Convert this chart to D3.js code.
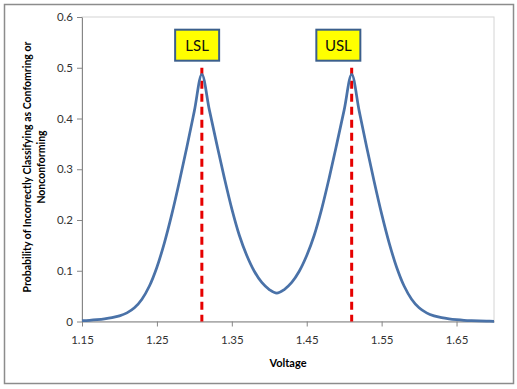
<!DOCTYPE html>
<html>
<head>
<meta charset="utf-8">
<script src="https://cdn.jsdelivr.net/npm/d3@7"></script>
<style>
  body { margin: 0; background: #fff; }
  svg { display: block; font-family: Lato, "Open Sans", sans-serif; }
</style>
</head>
<body>
<svg id="chart" width="517" height="389"></svg>
<script>
// data
const voltage = [1.15, 1.16, 1.17, 1.18, 1.19, 1.20, 1.21, 1.22, 1.23, 1.24,
  1.25, 1.26, 1.27, 1.28, 1.29, 1.30, 1.31, 1.32, 1.33, 1.34,
  1.35, 1.36, 1.37, 1.38, 1.39, 1.40, 1.41, 1.42, 1.43, 1.44,
  1.45, 1.46, 1.47, 1.48, 1.49, 1.50, 1.51, 1.52, 1.53, 1.54,
  1.55, 1.56, 1.57, 1.58, 1.59, 1.60, 1.61, 1.62, 1.63, 1.64,
  1.65, 1.66, 1.67, 1.68, 1.69, 1.70];
const probability = [0.0016, 0.0024, 0.0036, 0.0052, 0.0075, 0.011, 0.017, 0.027, 0.044, 0.070,
  0.107, 0.155, 0.212, 0.276, 0.344, 0.415, 0.487, 0.417, 0.349, 0.283,
  0.222, 0.170, 0.130, 0.099, 0.077, 0.063, 0.056, 0.063, 0.077, 0.099,
  0.130, 0.170, 0.222, 0.283, 0.349, 0.417, 0.487, 0.415, 0.344, 0.276,
  0.212, 0.155, 0.107, 0.070, 0.044, 0.027, 0.017, 0.011, 0.0075, 0.0052,
  0.0036, 0.0024, 0.0016, 0.001, 0.0006, 0.0004];

const limitNames = ["LSL", "USL"];
const limitValues = [1.31, 1.51];
const limitTop = 0.5;
const labelCenters = [1.3037, 1.4922];

const xTicks = [1.15, 1.25, 1.35, 1.45, 1.55, 1.65];
const yTicks = [0, 0.1, 0.2, 0.3, 0.4, 0.5, 0.6];

const margin = {left: 82, right: 23, top: 17, bottom: 67.5};
const width = 517, height = 389;

let svg = d3.select("#chart");

// outer chart border
svg.append("rect")
  .attr("x", 4.5).attr("y", 4.5)
  .attr("width", 509).attr("height", 379)
  .attr("fill", "#fff")
  .attr("stroke", "#8c8c8c")
  .attr("stroke-width", 1.5);

let x = d3.scaleLinear()
  .domain([1.15, 1.70])
  .range([margin.left, width - margin.right]);

let y = d3.scaleLinear()
  .domain([0, 0.6])
  .range([height - margin.bottom, margin.top]);

// plot area border
svg.append("rect")
  .attr("x", x(1.15)).attr("y", y(0.6))
  .attr("width", x(1.70) - x(1.15)).attr("height", y(0) - y(0.6))
  .attr("fill", "none")
  .attr("stroke", "#d4d4d4")
  .attr("stroke-width", 1);

let yAxis = d3.axisLeft(y)
  .tickValues(yTicks)
  .tickFormat(d => d === 0 ? "0" : d3.format(".1f")(d))
  .tickSize(5).tickPadding(4).tickSizeOuter(0);

let xAxis = d3.axisBottom(x)
  .tickValues(xTicks)
  .tickFormat(d3.format(".2f"))
  .tickSize(5).tickPadding(9).tickSizeOuter(0);

let gy = svg.append("g")
  .attr("transform", `translate(${margin.left},0)`)
  .call(yAxis);

let gx = svg.append("g")
  .attr("transform", `translate(0,${y(0)})`)
  .call(xAxis);

[gx, gy].forEach(g => {
  g.select(".domain").attr("stroke", "#868686");
  g.selectAll(".tick line").attr("stroke", "#868686");
  g.selectAll(".tick text")
    .attr("fill", "#333")
    .style("font-size", "11.5px")
    .style("font-family", "Lato, sans-serif");
});

// dashed spec limit lines
svg.selectAll(".limit")
  .data(limitValues)
  .enter().append("line")
  .attr("class", "limit")
  .attr("x1", d => x(d)).attr("x2", d => x(d))
  .attr("y1", y(limitTop)).attr("y2", y(0))
  .attr("stroke", "#e60000")
  .attr("stroke-width", 3)
  .attr("stroke-dasharray", "8,5");

// probability curve
let line = d3.line()
  .x((d, i) => x(voltage[i]))
  .y(d => y(d))
  .curve(d3.curveCatmullRom.alpha(0.5));

svg.append("path")
  .attr("fill", "none")
  .attr("stroke", "#4a72a8")
  .attr("stroke-width", 2.75)
  .attr("d", line(probability));

// LSL / USL boxes
let boxes = svg.selectAll(".lbl")
  .data(limitNames)
  .enter().append("g")
  .attr("class", "lbl")
  .attr("transform", (d, i) => `translate(${x(labelCenters[i])},${y(0.575)})`);

boxes.append("rect")
  .attr("x", -22).attr("y", 0)
  .attr("width", 44).attr("height", 31)
  .attr("fill", "#ffff00")
  .attr("stroke", "#3b5f8c")
  .attr("stroke-width", 2);

boxes.append("text")
  .attr("x", 0).attr("y", 21)
  .attr("text-anchor", "middle")
  .style("font-size", "15px")
  .attr("fill", "#111")
  .text(d => d);

// axis titles
svg.append("text")
  .attr("x", (x(1.15) + x(1.70)) / 2)
  .attr("y", 367)
  .attr("text-anchor", "middle")
  .style("font-size", "11px")
  .style("font-weight", "bold")
  .text("Voltage");

let yTitle = svg.append("text")
  .attr("transform", "translate(0,167) rotate(-90)")
  .attr("text-anchor", "middle")
  .style("font-size", "10.5px")
  .style("font-weight", "bold");

yTitle.append("tspan").attr("x", 0).attr("y", 31)
  .text("Probability of Incorrectly Classifying as Confomring or");
yTitle.append("tspan").attr("x", 0).attr("y", 45)
  .text("Nonconforming");
</script>
</body>
</html>
